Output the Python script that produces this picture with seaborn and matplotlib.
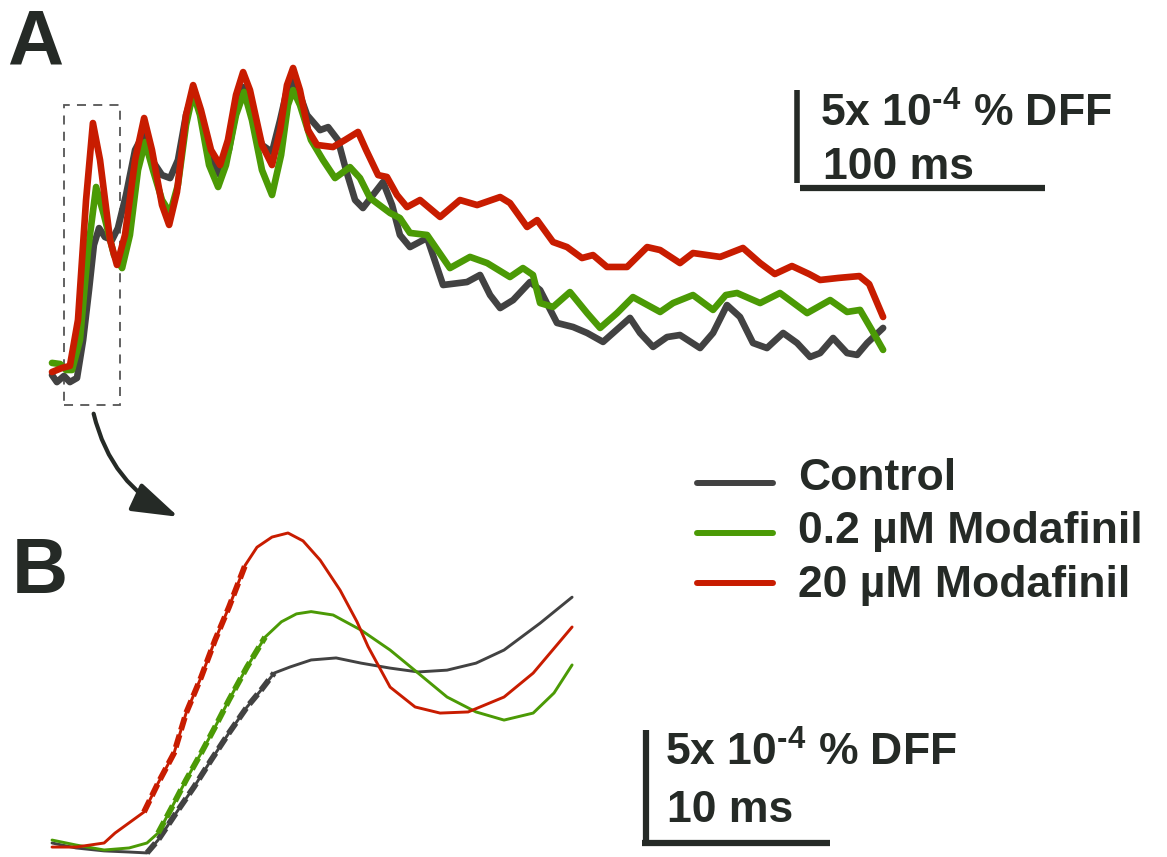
import numpy as np
import pandas as pd
import seaborn as sns
import matplotlib.pyplot as plt
from matplotlib.lines import Line2D
from matplotlib.patches import Rectangle, FancyArrowPatch

# Panel A: whole response (time in ms, signal in 1e-4 % DFF)
a_ctrl_t = [0, 2.0, 4.9, 7.3, 10.2, 12.7, 15.1, 17.1, 19.2, 21.6, 24.5, 26.9, 30.2, 33.9, 37.1,
            40.8, 44.9, 48.2, 51.4, 54.7, 57.6, 60.8, 64.9, 68.6, 72.2, 75.5, 78.0, 81.2, 85.7,
            89.8, 93.1, 95.9, 98.4, 101.2, 104.1, 109.4, 112.7, 116.7, 120.0, 123.7, 126.9,
            131.0, 135.1, 138.8, 142.0, 146.1, 153.1, 159.6, 169.4, 174.7, 178.8, 182.9, 188.2,
            195.1, 199.2, 206.1, 212.7, 218.4, 224.9, 229.0, 235.9, 240.0, 245.3, 251.0, 256.3,
            264.5, 269.8, 275.5, 280.8, 286.1, 291.8, 298.4, 304.1, 309.4, 313.5, 318.8, 324.5,
            328.6, 332.7, 339.2]
a_ctrl_v = [0.16, -0.22, 0.11, -0.22, 0.0, 2.04, 4.73, 7.15, 8.06, 7.58, 7.42, 8.06, 9.84, 12.26,
            13.06, 11.72, 10.91, 10.75, 11.72, 14.14, 15.38, 14.14, 11.72, 10.91, 12.26, 14.68,
            15.65, 14.30, 12.53, 12.15, 13.87, 15.48, 16.02, 15.22, 14.14, 13.33, 13.49, 12.80,
            11.18, 9.57, 9.14, 9.84, 10.54, 9.30, 7.69, 7.04, 7.53, 5.0, 5.16, 5.54, 4.46, 3.76,
            4.19, 5.16, 4.73, 2.96, 2.74, 2.42, 1.94, 2.42, 3.23, 2.42, 1.67, 2.20, 2.31, 1.61,
            2.42, 3.92, 3.28, 1.88, 1.61, 2.42, 1.88, 1.13, 1.34, 2.15, 1.34, 1.24, 1.88, 2.69]

a_low_t = [0, 3.3, 5.7, 8.2, 11.4, 14.7, 18.0, 21.2, 25.3, 28.6, 31.8, 35.1, 38.0, 41.2, 44.9,
           48.2, 51.4, 54.7, 57.6, 60.4, 64.1, 67.8, 71.0, 75.1, 78.4, 81.6, 85.7, 89.8, 93.5,
           96.3, 98.4, 101.2, 105.7, 110.6, 115.5, 121.6, 125.7, 129.8, 138.0, 142.0, 146.1,
           153.1, 162.4, 170.6, 177.6, 186.9, 192.2, 196.3, 199.2, 204.5, 211.4, 218.4, 223.7,
           230.6, 237.1, 248.2, 253.5, 261.6, 269.8, 275.0, 279.6, 289.0, 297.1, 308.2, 317.6,
           324.5, 329.8, 334.5, 339.2]
a_low_v = [0.81, 0.75, 0.43, 0.43, 2.04, 6.88, 10.27, 8.76, 6.61, 5.91, 7.69, 11.18, 12.69,
           11.18, 9.57, 8.87, 10.38, 13.60, 15.32, 14.14, 11.45, 10.27, 11.45, 14.14, 15.38,
           13.87, 11.18, 9.84, 11.99, 14.68, 15.48, 14.68, 12.80, 11.72, 10.75, 11.34, 10.75,
           9.68, 8.87, 8.60, 7.80, 7.69, 5.91, 6.51, 6.18, 5.43, 5.91, 5.54, 4.03, 3.82, 4.62,
           3.49, 2.69, 3.49, 4.35, 3.55, 4.03, 4.46, 3.66, 4.46, 4.57, 4.03, 4.57, 3.49, 4.19,
           3.55, 3.66, 2.60, 1.51]

a_high_t = [0, 4.1, 7.3, 10.6, 13.9, 16.7, 19.6, 23.7, 26.5, 29.8, 33.9, 37.6, 40.8, 44.9, 47.8,
            51.0, 54.7, 57.6, 60.8, 64.9, 68.6, 71.8, 75.1, 78.0, 80.8, 85.7, 89.8, 93.1, 95.9,
            98.4, 101.2, 104.5, 108.2, 114.7, 119.6, 124.9, 128.2, 133.1, 136.7, 140.8, 144.9,
            150.2, 158.4, 166.5, 173.5, 182.9, 186.9, 193.9, 198.0, 204.5, 210.2, 216.3, 220.8,
            226.5, 234.7, 242.9, 248.2, 256.3, 261.6, 272.7, 282.0, 289.0, 295.0, 302.0, 309.0,
            313.5, 321.0, 329.5, 333.5, 339.2]
a_high_v = [0.32, 0.54, 0.65, 3.12, 9.57, 13.71, 11.72, 7.42, 6.08, 7.69, 11.72, 13.98, 12.26,
            9.30, 8.23, 10.0, 14.14, 15.75, 14.41, 12.26, 11.45, 12.80, 15.22, 16.45, 15.48,
            12.53, 11.45, 13.33, 15.75, 16.67, 15.48, 13.33, 12.53, 12.42, 12.80, 13.23, 12.26,
            10.91, 10.81, 9.84, 9.19, 9.57, 8.66, 9.57, 9.30, 9.73, 9.41, 8.12, 8.49, 7.31,
            7.04, 6.45, 6.61, 5.97, 5.97, 7.04, 6.88, 6.18, 6.72, 6.51, 6.99, 6.18, 5.59, 6.02,
            5.59, 5.27, 5.38, 5.48, 5.05, 3.28]

# Panel B: first peak, expanded
b_ctrl_t = [0, 1.28, 2.77, 4.10, 5.05, 5.64, 6.60, 7.55, 8.46, 9.41, 10.37, 11.12, 11.81, 12.66,
            13.78, 15.11, 16.44, 17.98, 19.47, 21.01, 22.55, 24.04, 25.96, 27.66]
b_ctrl_v = [0.31, 0.09, -0.04, -0.09, -0.13, 0.44, 1.64, 2.79, 3.98, 5.18, 6.33, 7.08, 7.83,
            8.10, 8.41, 8.50, 8.27, 8.05, 7.88, 7.96, 8.27, 8.85, 10.04, 11.19]
b_low_t = [0, 1.28, 2.77, 4.10, 5.05, 5.64, 6.38, 7.13, 7.93, 8.67, 9.41, 10.37, 11.33, 12.2,
           13.0, 13.78, 14.95, 16.44, 17.98, 19.47, 21.01, 22.55, 24.04, 25.59, 26.70, 27.66]
b_low_v = [0.44, 0.22, 0.0, 0.09, 0.31, 0.75, 1.90, 3.10, 4.29, 5.44, 6.64, 8.10, 9.42, 10.1,
           10.45, 10.55, 10.40, 9.73, 8.85, 7.83, 6.77, 6.11, 5.75, 6.06, 6.95, 8.19]
b_high_t = [0, 1.28, 2.77, 3.35, 4.89, 5.64, 6.49, 7.13, 7.93, 8.67, 9.41, 10.27, 10.9, 11.70,
            12.55, 13.35, 14.26, 15.32, 16.22, 16.81, 17.98, 19.31, 20.64, 22.13, 24.04, 25.59,
            27.66]
b_high_v = [0.13, 0.13, 0.31, 0.75, 1.68, 2.96, 4.29, 6.06, 7.65, 9.29, 10.75, 12.6, 13.4, 13.85,
            14.03, 13.68, 12.83, 11.50, 10.1, 9.0, 7.21, 6.33, 6.06, 6.11, 6.77, 7.83, 9.87]
# rising-phase windows (ms) marked with the thick dashed overlay
rise_windows = {'Control': (5.0, 11.9), '0.2 µM Modafinil': (5.6, 11.4),
                '20 µM Modafinil': (4.8, 10.3)}

conditions = ['Control', '0.2 µM Modafinil', '20 µM Modafinil']
colors = {'Control': '#424242', '0.2 µM Modafinil': '#4b9a05', '20 µM Modafinil': '#c81c00'}
ink = '#252a26'
dff_label = '5x 10$^{\u20104}$ % DFF'


def make_df(series):
    rows = []
    for cond, (t, v) in zip(conditions, series):
        rows.append(pd.DataFrame({'time': t, 'value': v, 'condition': cond}))
    return pd.concat(rows, ignore_index=True)


df_a = make_df([(a_ctrl_t, a_ctrl_v), (a_low_t, a_low_v), (a_high_t, a_high_v)])
df_b = make_df([(b_ctrl_t, b_ctrl_v), (b_low_t, b_low_v), (b_high_t, b_high_v)])

sns.set_style('white')
plt.rcParams['font.family'] = ['Liberation Sans', 'DejaVu Sans']
plt.rcParams['font.weight'] = 'bold'
plt.rcParams['mathtext.fontset'] = 'custom'
plt.rcParams['mathtext.rm'] = 'Liberation Sans:bold'
plt.rcParams['mathtext.default'] = 'rm'

W, H = 1167, 857
fig = plt.figure(figsize=(W / 100, H / 100), dpi=100)

# ---- panel A ----
axA = fig.add_axes([40 / W, 1 - 420 / H, 1020 / W, 360 / H])
sns.lineplot(data=df_a, x='time', y='value', hue='condition', hue_order=conditions,
             palette=colors, sort=False, estimator=None, linewidth=4.8, legend=False, ax=axA)
axA.set_xlim(-4.9, 411.4)
axA.set_ylim(-2.26, 17.1)
axA.axis('off')
axA.add_patch(Rectangle((4.9, -1.45), 22.9, 16.13, fill=False, ec='#555555', lw=1.3,
                        ls=(0, (5, 4))))
# scale bar A: 5e-4 % DFF / 100 ms
axA.plot([304.1, 304.1], [10.5, 15.5], color=ink, lw=4, solid_capstyle='butt')
axA.plot([305.3, 405.3], [10.2, 10.2], color=ink, lw=4.5, solid_capstyle='butt')
axA.text(313.5, 13.5, dff_label, fontsize=32, color=ink, va='baseline')
axA.text(314.5, 10.7, '100 ms', fontsize=32, color=ink, va='baseline')

# ---- panel B ----
axB = fig.add_axes([40 / W, 0, 860 / W, 357 / H])
sns.lineplot(data=df_b, x='time', y='value', hue='condition', hue_order=conditions,
             palette=colors, sort=False, estimator=None, linewidth=2.1, legend=False, ax=axB)
for cond, (t, v) in zip(conditions, [(b_ctrl_t, b_ctrl_v), (b_low_t, b_low_v),
                                     (b_high_t, b_high_v)]):
    t = np.array(t)
    v = np.array(v)
    lo, hi = rise_windows[cond]
    m = (t >= lo) & (t <= hi)
    axB.plot(t[m], v[m], color=colors[cond], lw=4.2, ls=(0, (2.2, 0.9)))
axB.set_xlim(-0.64, 45.1)
axB.set_ylim(-0.31, 15.49)
axB.axis('off')
# scale bar B: 5e-4 % DFF / 10 ms
axB.plot([31.6, 31.6], [0.3, 5.3], color=ink, lw=4.5, solid_capstyle='butt')
axB.plot([31.4, 41.4], [0.3, 0.3], color=ink, lw=4.5, solid_capstyle='butt')
axB.text(32.6, 3.75, dff_label, fontsize=32, color=ink, va='baseline')
axB.text(32.7, 1.25, '10 ms', fontsize=32, color=ink, va='baseline')

# legend
for i, cond in enumerate(conditions):
    y = 1 - (483 + 50 * i) / H
    fig.add_artist(Line2D([697 / W, 773 / W], [y, y], color=colors[cond], lw=4.3))
    fig.text(798 / W, 1 - (490 + 53.5 * i) / H, cond, fontsize=32, color=ink, va='baseline')

# panel letters and arrow
fig.text(7 / W, 1 - 65 / H, 'A', fontsize=56, color=ink, va='baseline')
fig.text(12 / W, 1 - 593 / H, 'B', fontsize=56, color=ink, va='baseline')
fig.add_artist(FancyArrowPatch((93 / W, 1 - 411 / H), (181 / W, 1 - 518 / H),
                               transform=fig.transFigure, connectionstyle='arc3,rad=0.25',
                               arrowstyle='-|>,head_length=1.3,head_width=0.42',
                               mutation_scale=22, lw=3, color=ink))

fig.savefig('out.png', dpi=100)
